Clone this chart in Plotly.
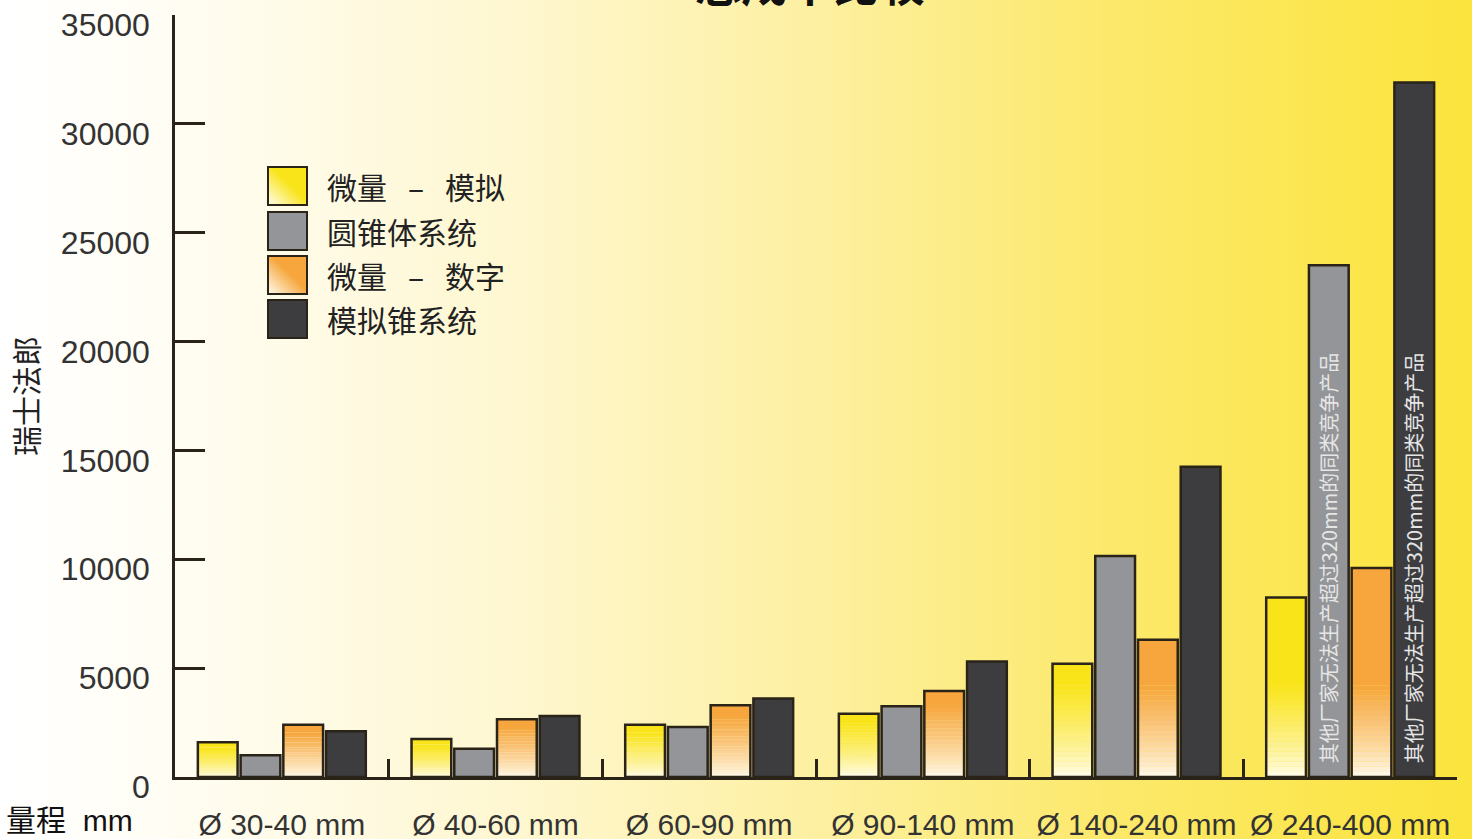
import base64
import plotly.graph_objects as go

# ---------------- data ----------------
categories = ["Ø 30-40 mm", "Ø 40-60 mm", "Ø 60-90 mm", "Ø 90-140 mm", "Ø 140-240 mm", "Ø 240-400 mm"]
series_names = ["微量\u2002\u2009–\u2002\u2009模拟", "圆锥体系统", "微量\u2002\u2009–\u2002\u2009数字", "模拟锥系统"]
micro_analog = [1600, 1750, 2400, 2900, 5200, 8250]
cone_system = [1000, 1300, 2300, 3250, 10150, 23500]
micro_digital = [2400, 2650, 3300, 3950, 6300, 9600]
analog_cone = [2100, 2800, 3600, 5300, 14250, 31900]
y_ticks = [0, 5000, 10000, 15000, 20000, 25000, 30000, 35000]
y_tick_text = ["0", "5000", "10000", "15000", "20000", "25000", "30000", "35000"]
note_text = "其他厂家无法生产超过320mm的同类竞争产品"
title_text = "总成本比较"
y_title = "瑞士法郎"
x_title = "量程  mm"

# ---------------- style ----------------
W, H = 1472, 839
ML, MR, MT, MB = 175, 15, 15, 62
PW, PH = W - ML - MR, H - MT - MB
OUTLINE = "#2a2318"
YELLOW = (249, 228, 26)
ORANGE = (246, 166, 60)
GREY = "#939598"
DARK = "#3d3d40"
WHITE = (255, 252, 238)
LAT = "Liberation Sans, Arial, sans-serif"
CJK = "Noto Sans CJK SC, sans-serif"


def px_x(p):
    return (p - ML) / PW


def px_y(p):
    return (H - MB - p) / PH


def mix(c1, c2, t):
    return "rgb(%d,%d,%d)" % tuple(round(a + (b - a) * t) for a, b in zip(c1, c2))


def svg_uri(svg):
    return "data:image/svg+xml;base64," + base64.b64encode(svg.encode()).decode()


fig = go.Figure()

N_SEG = 18


def gradient_series(values, color, group):
    grad = [min(0.85 * v, 4200) for v in values]
    for i in range(N_SEG):
        t = (i + 0.5) / N_SEG
        fig.add_trace(go.Bar(
            x=categories, y=[g / N_SEG for g in grad], base=[g * i / N_SEG for g in grad],
            offsetgroup=group, marker=dict(color=mix(WHITE, color, t ** 0.8), line=dict(width=0)),
            showlegend=False, hoverinfo="skip"))
    fig.add_trace(go.Bar(
        x=categories, y=[v - g for v, g in zip(values, grad)], base=grad,
        offsetgroup=group, marker=dict(color=mix(WHITE, color, 1), line=dict(width=0)),
        showlegend=False, hoverinfo="skip"))


def outline_series(values, group, name, fill="rgba(0,0,0,0)"):
    fig.add_trace(go.Bar(
        x=categories, y=values, offsetgroup=group, name=name,
        marker=dict(color=fill, line=dict(color=OUTLINE, width=2.5)),
        showlegend=False))


gradient_series(micro_analog, YELLOW, "a")
outline_series(micro_analog, "a", series_names[0])
outline_series(cone_system, "b", series_names[1], GREY)
gradient_series(micro_digital, ORANGE, "c")
outline_series(micro_digital, "c", series_names[2])
outline_series(analog_cone, "d", series_names[3], DARK)

# ---------------- background gradient ----------------
bg_svg = (
    '<svg xmlns="http://www.w3.org/2000/svg" width="1472" height="839" preserveAspectRatio="none">'
    '<defs><linearGradient id="g" x1="0" y1="0" x2="1" y2="0">'
    '<stop offset="0" stop-color="#ffffff"/>'
    '<stop offset="0.12" stop-color="#fffdf3"/>'
    '<stop offset="0.35" stop-color="#fef7d0"/>'
    '<stop offset="0.55" stop-color="#fdf0a2"/>'
    '<stop offset="0.75" stop-color="#fce96c"/>'
    '<stop offset="1" stop-color="#fbe43c"/>'
    '</linearGradient></defs><rect width="1472" height="839" fill="url(#g)"/></svg>')

images = [dict(source=svg_uri(bg_svg), xref="paper", yref="paper", x=px_x(0), y=px_y(0),
               sizex=W / PW, sizey=H / PH, sizing="stretch", layer="below",
               xanchor="left", yanchor="top")]


def sq_svg(c):
    return ('<svg xmlns="http://www.w3.org/2000/svg" width="40" height="40" preserveAspectRatio="none">'
            '<defs><linearGradient id="g" x1="0" y1="1" x2="1" y2="0">'
            '<stop offset="0" stop-color="#fffdf0"/><stop offset="0.55" stop-color="%s"/>'
            '<stop offset="1" stop-color="%s"/></linearGradient></defs>'
            '<rect width="40" height="40" fill="url(#g)"/></svg>') % (c, c)


legend_fills = [sq_svg("#f9e41a"), GREY, sq_svg("#f6a63c"), DARK]
legend_top = [167, 212, 256, 300]
shapes = []
annotations = []
for name, fillv, top in zip(series_names, legend_fills, legend_top):
    x0, x1, y0, y1 = px_x(268), px_x(307), px_y(top + 38), px_y(top)
    if fillv.startswith("<svg"):
        images.append(dict(source=svg_uri(fillv), xref="paper", yref="paper", x=x0, y=y1,
                           sizex=x1 - x0, sizey=y1 - y0, sizing="stretch", layer="above",
                           xanchor="left", yanchor="top"))
        fc = "rgba(0,0,0,0)"
    else:
        fc = fillv
    shapes.append(dict(type="rect", xref="paper", yref="paper", x0=x0, x1=x1, y0=y0, y1=y1,
                       fillcolor=fc, line=dict(color=OUTLINE, width=2)))
    annotations.append(dict(text=name, xref="paper", yref="paper", x=px_x(325), y=px_y(top + 19),
                            xanchor="left", yanchor="middle", showarrow=False,
                            font=dict(family=CJK, size=30, color="#222")))

# vertical notes inside the tall bars
for shift in (-22, 63):
    annotations.append(dict(text=note_text, xref="x", yref="y", x=categories[5], y=0,
                            xshift=shift, yshift=12, yanchor="bottom", xanchor="center",
                            textangle=-90, showarrow=False,
                            font=dict(family=CJK, size=20, color="#e6e6e6")))

annotations.append(dict(text=title_text, xref="paper", yref="paper", x=px_x(810), y=px_y(-19),
                        xanchor="center", yanchor="middle", showarrow=False,
                        font=dict(family=CJK, size=46, color="#111", weight="bold")))
annotations.append(dict(text=x_title, xref="paper", yref="paper", x=px_x(4), y=px_y(820),
                        xanchor="left", yanchor="middle", showarrow=False,
                        font=dict(family=LAT + ", " + CJK, size=30, color="#111")))

fig.update_layout(
    width=W, height=H, margin=dict(l=ML, r=MR, t=MT, b=MB, autoexpand=False),
    paper_bgcolor="white", plot_bgcolor="rgba(0,0,0,0)",
    barmode="group", bargap=0.2, bargroupgap=0.07, showlegend=False,
    images=images, shapes=shapes, annotations=annotations,
    xaxis=dict(type="category", showline=True, linecolor=OUTLINE, linewidth=2.5, automargin=False,
               ticks="inside", tickson="boundaries", ticklen=18, tickwidth=2.5, tickcolor=OUTLINE,
               tickfont=dict(family=LAT, size=30, color="#333"), ticklabelstandoff=19,
               showgrid=False, zeroline=False, range=[-0.5, 5.5]),
    yaxis=dict(range=[0, 35000], tickvals=y_ticks, ticktext=y_tick_text, showline=True,
               linecolor=OUTLINE, linewidth=2.5, automargin=False,
               ticks="inside", ticklen=30, tickwidth=2.5, tickcolor=OUTLINE,
               tickfont=dict(family=LAT, size=32, color="#333"), ticklabelshift=10,
               ticklabelstandoff=16, ticklabeloverflow="allow",
               showgrid=False, zeroline=False,
               title=dict(text=y_title, font=dict(family=CJK, size=30, color="#222"), standoff=14)),
)

fig.write_html("out.html", config={"displayModeBar": False},
               post_script="document.body.style.margin='0';document.body.style.overflow='hidden';")
